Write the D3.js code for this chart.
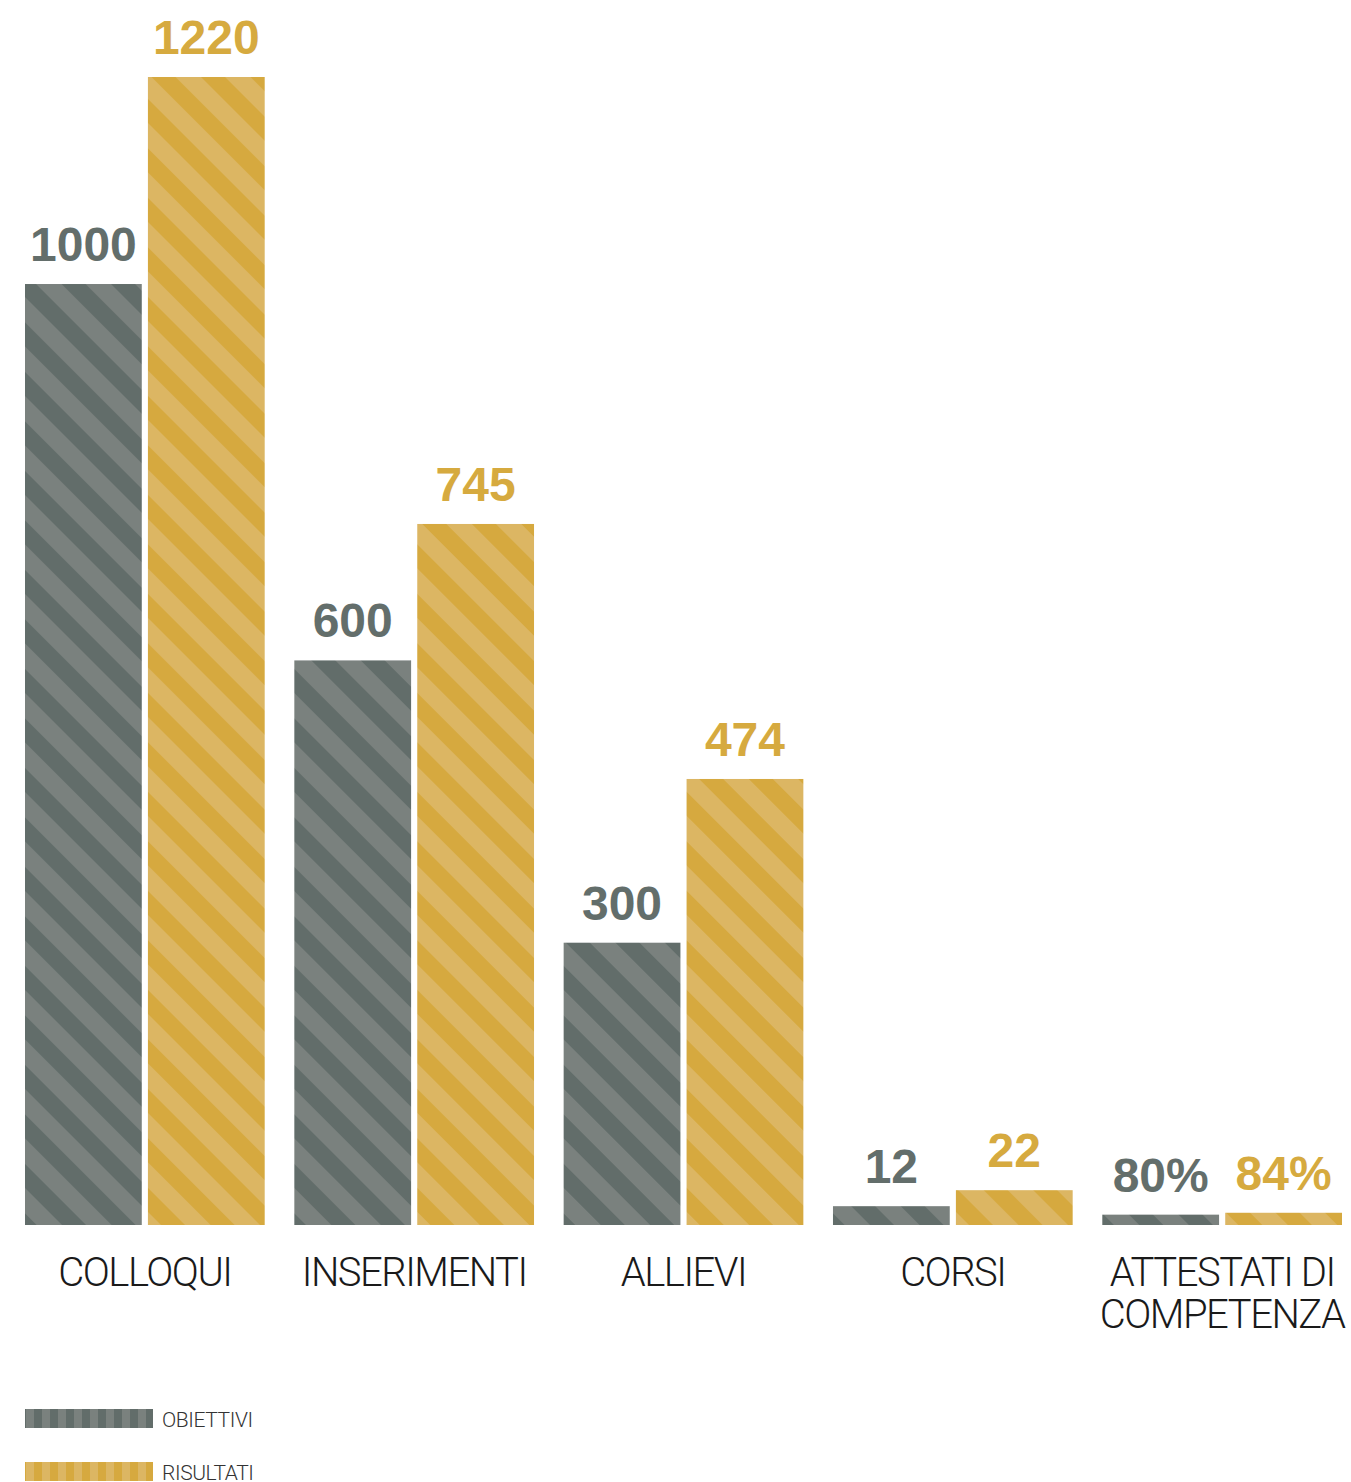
<!DOCTYPE html>
<html>
<head>
<meta charset="utf-8">
<script src="https://cdn.jsdelivr.net/npm/d3@7"></script>
<style>
  body { margin: 0; background: #fff; }
  svg { display: block; }
  .value { font-family: "Liberation Sans", Arial, sans-serif; font-weight: bold; font-size: 48px; text-anchor: middle; }
  .cat { font-family: Roboto, "Liberation Sans", sans-serif; font-weight: 300; font-size: 40px; fill: #1a1a1a; text-anchor: middle; letter-spacing: -1.5px; }
  .legend { font-family: Roboto, "Liberation Sans", sans-serif; font-weight: 300; font-size: 21px; fill: #333; letter-spacing: -0.4px; }
</style>
</head>
<body>
<svg id="chart" width="1351" height="1482"></svg>
<script>
const categories = ["COLLOQUI", "INSERIMENTI", "ALLIEVI", "CORSI", "ATTESTATI DI|COMPETENZA"];
const series = ["OBIETTIVI", "RISULTATI"];
// bar heights as drawn (same units as the big bars)
const obiettivi = [1000, 600, 300, 20, 11];
const risultati = [1220, 745, 474, 37, 13];
// printed labels
const obiettiviLabels = ["1000", "600", "300", "12", "80%"];
const risultatiLabels = ["1220", "745", "474", "22", "84%"];

const colors = {
  OBIETTIVI: { dark: "#626d6a", light: "#7a817e", text: "#636e6b" },
  RISULTATI: { dark: "#d6a93f", light: "#dcb663", text: "#d6aa3f" }
};

const svg = d3.select("#chart");
const baseY = 1225;

const x0 = d3.scaleBand().domain(categories).range([25, 1342]).paddingInner(0.11).paddingOuter(0);
const x1 = d3.scaleBand().domain(series).range([0, x0.bandwidth()]).paddingInner(0.05);
const y = d3.scaleLinear().domain([0, 1220]).range([baseY, 77]);

const defs = svg.append("defs");
series.forEach(s => {
  const p = defs.append("pattern")
    .attr("id", "stripe-" + s)
    .attr("patternUnits", "userSpaceOnUse")
    .attr("width", 35).attr("height", 35)
    .attr("patternTransform", "rotate(-45)");
  p.append("rect").attr("width", 35).attr("height", 35).attr("fill", colors[s].light);
  p.append("rect").attr("width", 17).attr("height", 35).attr("fill", colors[s].dark);

  const v = defs.append("pattern")
    .attr("id", "vstripe-" + s)
    .attr("patternUnits", "userSpaceOnUse")
    .attr("x", 25)
    .attr("width", 16).attr("height", 20);
  v.append("rect").attr("width", 16).attr("height", 20).attr("fill", colors[s].light);
  v.append("rect").attr("width", 8).attr("height", 20).attr("fill", colors[s].dark);
});

const rows = categories.map((c, i) => ({
  cat: c,
  bars: [
    { s: "OBIETTIVI", v: obiettivi[i], label: obiettiviLabels[i] },
    { s: "RISULTATI", v: risultati[i], label: risultatiLabels[i] }
  ]
}));

const g = svg.selectAll(".group")
  .data(rows)
  .enter().append("g")
  .attr("class", "group")
  .attr("transform", d => `translate(${x0(d.cat)},0)`);

g.selectAll("rect")
  .data(d => d.bars)
  .enter().append("rect")
  .attr("x", d => x1(d.s))
  .attr("y", d => y(d.v))
  .attr("width", x1.bandwidth())
  .attr("height", d => baseY - y(d.v))
  .attr("fill", d => `url(#stripe-${d.s})`);

g.selectAll(".value")
  .data(d => d.bars)
  .enter().append("text")
  .attr("class", "value")
  .attr("x", d => x1(d.s) + x1.bandwidth() / 2)
  .attr("y", d => y(d.v) - 23)
  .attr("fill", d => colors[d.s].text)
  .text(d => d.label);

const cat = g.append("text")
  .attr("class", "cat")
  .attr("x", x0.bandwidth() / 2)
  .attr("y", 1286);
cat.selectAll("tspan")
  .data(d => d.cat.split("|"))
  .enter().append("tspan")
  .attr("x", x0.bandwidth() / 2)
  .attr("dy", (d, i) => i === 0 ? 0 : 42)
  .text(d => d);

const leg = svg.selectAll(".leg")
  .data(series)
  .enter().append("g")
  .attr("class", "leg")
  .attr("transform", (d, i) => `translate(25,${1409 + i * 53})`);
leg.append("rect")
  .attr("width", 128).attr("height", 19)
  .attr("fill", d => `url(#vstripe-${d})`);
leg.append("text")
  .attr("class", "legend")
  .attr("x", 137).attr("y", 18)
  .text(d => d);
</script>
</body>
</html>
